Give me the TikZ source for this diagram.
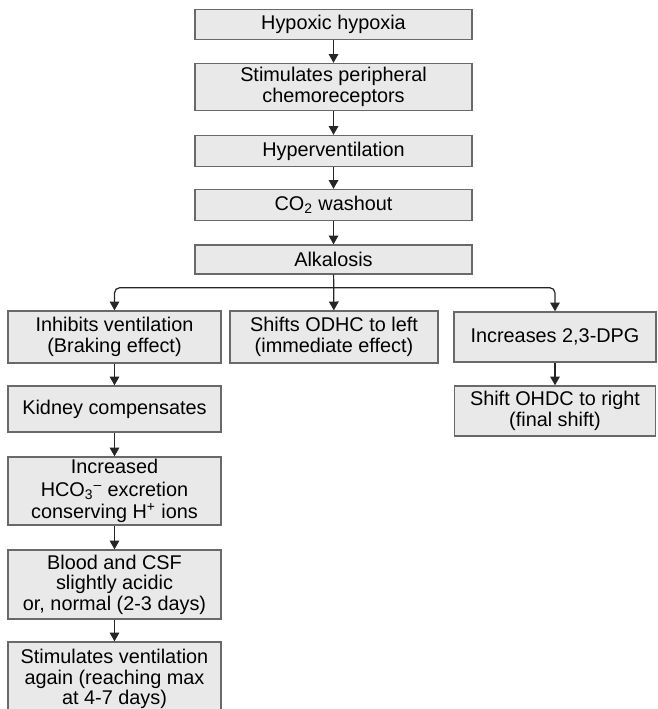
\documentclass[tikz,border=0pt]{standalone}
\usepackage{fontspec}
\setmainfont{Liberation Sans}
\usetikzlibrary{arrows.meta, positioning, calc}
\definecolor{boxfill}{RGB}{233,233,233}
\definecolor{boxline}{RGB}{105,105,105}
\tikzset{
    % grey step box of the flow chart
    stepbox/.style={draw=boxline, fill=boxfill, line width=0.8pt, align=center,
        inner sep=1pt, font=\fontsize{11.3}{11.6}\selectfont},
    % downward connectors
    edge/.style={-{Triangle[length=5pt, width=5.5pt]}, draw=black!85, line width=0.7pt},
}

\begin{document}
\begin{tikzpicture}[x=0.02cm, y=-0.02cm]
    \useasboundingbox (0,0) rectangle (657,709);

    % ---- main chain ----
    \node[stepbox, minimum width=5.54cm, minimum height=0.60cm] (hyp)    at (333.5, 24.5) {Hypoxic hypoxia};
    \node[stepbox, minimum width=5.54cm, minimum height=0.94cm] (stim)   at (333.5, 87)   {Stimulates peripheral\\chemoreceptors};
    \node[stepbox, minimum width=5.54cm, minimum height=0.62cm] (hyperv) at (333.5, 151)  {Hyperventilation};
    \node[stepbox, minimum width=5.54cm, minimum height=0.62cm] (co2)    at (333.5, 205)  {CO\textsubscript{2} washout};
    \node[stepbox, minimum width=5.54cm, minimum height=0.58cm] (alk)    at (333.5, 259.5){Alkalosis};

    % ---- left branch ----
    \node[stepbox, minimum width=4.26cm, minimum height=0.92cm] (kid)   at (114.5, 409) {Kidney compensates};
    \node[stepbox, minimum width=4.26cm, minimum height=1.04cm] (inh)   at (114.5, 337) {Inhibits ventilation\\(Braking effect)};
    \node[stepbox, minimum width=4.26cm, minimum height=1.36cm,
          font=\fontsize{11.3}{12.6}\selectfont]                (inc)   at (114.5, 491) {Increased\\HCO\textsubscript{3}\textsuperscript{--} excretion\\conserving H\textsuperscript{+} ions};
    \node[stepbox, minimum width=4.26cm, minimum height=1.38cm] (blood) at (114.5, 584.5) {Blood and CSF\\slightly acidic\\or, normal (2-3 days)};
    \node[stepbox, minimum width=4.26cm, minimum height=1.48cm] (again) at (114.5, 679) {Stimulates ventilation\\again (reaching max\\at 4-7 days)};

    % ---- middle and right branches ----
    \node[stepbox, minimum width=4.16cm, minimum height=1.04cm] (odhc)  at (334, 337) {Shifts ODHC to left\\(immediate effect)};
    \node[stepbox, minimum width=4.04cm, minimum height=1.00cm] (dpg)   at (555, 337) {Increases 2,3-DPG};
    \node[stepbox, minimum width=4.02cm, minimum height=1.00cm] (shift) at (555, 411) {Shift OHDC to right\\(final shift)};

    % straight arrows down each column
    \foreach \a/\b in {hyp/stim, stim/hyperv, hyperv/co2, co2/alk,
                       inh/kid, kid/inc, inc/blood, blood/again, dpg/shift}{
        \draw[edge] (\a) -- (\b);
    }

    % split below alkalosis
    \coordinate (split) at ($(alk.south)+(0,13)$);
    \draw[edge] (alk) -- (odhc);
    \draw[edge, rounded corners=3pt] (split) -| (inh.north);
    \draw[edge, rounded corners=3pt] (split) -| (dpg.north);

\end{tikzpicture}
\end{document}
